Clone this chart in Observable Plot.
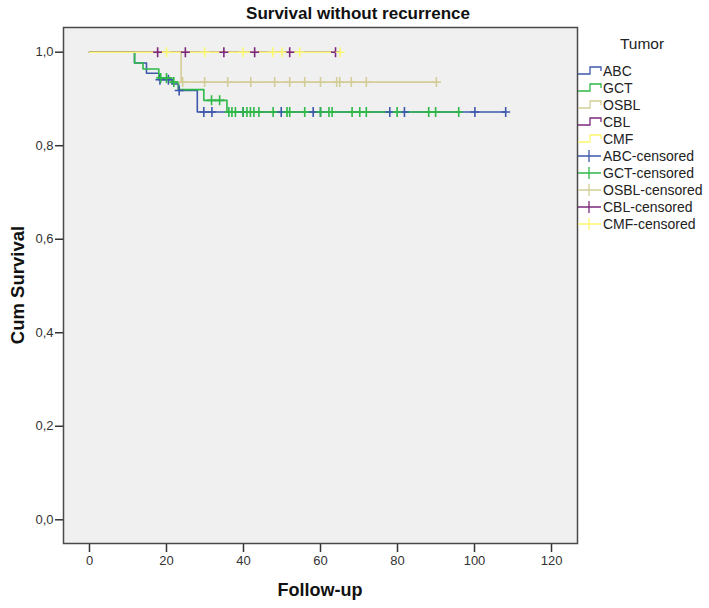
<!DOCTYPE html>
<html><head><meta charset="utf-8">
<script src="https://cdn.jsdelivr.net/npm/d3@7"></script>
<script src="https://cdn.jsdelivr.net/npm/@observablehq/plot@0.6"></script>
<style>
body{margin:0;background:#fff;font-family:"Liberation Sans",Arial,sans-serif;}
#wrap{position:relative;width:709px;height:608px;}
#over{position:absolute;left:0;top:0;pointer-events:none;}
</style></head>
<body><div id="wrap"></div>
<script>
const groups = ["ABC","GCT","OSBL","CBL","CMF"];
const colors = ["#3E58AC","#2EB848","#D3CE97","#7C287D","#FBF873"];
const xTicks = [0,20,40,60,80,100,120];
const yTicks = [0,0.2,0.4,0.6,0.8,1.0];

// Kaplan-Meier steps (time, survival)
const abcTime = [0, 11.7, 14.8, 18.0, 21.4, 23.1, 28.0, 108.1];
const abcSurv = [1, 0.977, 0.955, 0.941, 0.932, 0.918, 0.872, 0.872];
const gctTime = [0, 11.7, 13.9, 18.0, 21.4, 23.1, 29.7, 35.7, 95.9];
const gctSurv = [1, 0.977, 0.964, 0.945, 0.936, 0.920, 0.897, 0.872, 0.872];
const osblTime = [0, 23.8, 90.1];
const osblSurv = [1, 0.936, 0.936];
const cblTime = [0, 63.9];
const cblSurv = [1, 1];
const cmfTime = [0, 65.1];
const cmfSurv = [1, 1];

// censored times
const abcCens = [18.3, 20.5, 23.3, 29.7, 31.8, 39.9, 49.8, 58.1, 60.0, 78.0, 81.8, 100.1, 108.1];
const gctCens = [18.5, 20.0, 21.9, 31.7, 33.8, 36.2, 37.0, 37.9, 39.9, 40.9, 41.8, 42.7, 44.0, 47.7, 51.3, 52.0, 55.9, 60.0, 62.2, 63.0, 68.2, 70.2, 71.9, 79.9, 88.1, 89.9, 95.9];
const osblCens = [24.2, 29.9, 35.9, 41.9, 48.1, 52.0, 55.9, 60.0, 64.2, 65.0, 68.0, 71.9, 90.1];
const cblCens = [17.7, 24.9, 34.9, 42.9, 52.0, 63.9];
const cmfCens = [20.0, 29.9, 39.9, 47.6, 50.0, 54.6, 65.1];

const steps = [[abcTime,abcSurv],[gctTime,gctSurv],[osblTime,osblSurv],[cblTime,cblSurv],[cmfTime,cmfSurv]];
const cens = [abcCens,gctCens,osblCens,cblCens,cmfCens];

const lineRows = [];
steps.forEach(([t,s],i)=>t.forEach((v,j)=>lineRows.push({g:groups[i],t:v,s:s[j]})));
function survAt(i, time){
  const [t,s] = steps[i]; let v = s[0];
  for (let j=0;j<t.length;j++) if (t[j] <= time) v = s[j];
  return v;
}
const censRows = [];
cens.forEach((arr,i)=>arr.forEach(v=>censRows.push({g:groups[i],t:v,s:survAt(i,v)})));

const plus = {draw(ctx, size){ const a = Math.sqrt(size/Math.PI); ctx.moveTo(-a*0.9,0); ctx.lineTo(a*0.9,0); ctx.moveTo(0,-a); ctx.lineTo(0,a); }};

const fmt = d => d.toFixed(1).replace(".", ",");
const chart = Plot.plot({
  width: 709, height: 608,
  marginLeft: 63, marginRight: 132, marginTop: 27, marginBottom: 65,
  style: {fontFamily: '"Liberation Sans", Arial, sans-serif', fontSize: "13px", color: "#333", background: "#fff"},
  x: {domain: [-6.75, 126.75]},
  y: {domain: [-0.0507, 1.0528]},
  color: {domain: groups, range: colors},
  marks: [
    Plot.frame({fill: "#f0f0f0"}),
    Plot.axisX(xTicks, {tickSize: 9, tickPadding: 3, label: null, stroke: "#333", strokeWidth: 1.5, fill: "#333"}),
    Plot.axisY(yTicks, {tickSize: 8, tickPadding: 2, label: null, tickFormat: fmt, stroke: "#333", strokeWidth: 1.5, fill: "#333"}),
    Plot.line(lineRows, {x: "t", y: "s", z: "g", stroke: "g", curve: "step-after", strokeWidth: 1.6}),
    Plot.dot(censRows, {x: "t", y: "s", stroke: "g", symbol: plus, r: 5, strokeWidth: 1.6}),
    Plot.frame({stroke: "#4a4a4a", strokeWidth: 1.5})
  ]
});
const wrap = document.getElementById("wrap");
wrap.appendChild(chart);

// overlay: title, axis labels, legend
const ov = d3.select(wrap).append("svg").attr("id","over").attr("width",709).attr("height",608)
  .attr("font-family", '"Liberation Sans", Arial, sans-serif');
ov.append("text").attr("x",358).attr("y",19).attr("text-anchor","middle").attr("font-size",17).attr("font-weight","bold").attr("fill","#111").text("Survival without recurrence");
ov.append("text").attr("transform","translate(24,285) rotate(-90)").attr("text-anchor","middle").attr("font-size",18.5).attr("font-weight","bold").attr("fill","#111").text("Cum Survival");
ov.append("text").attr("x",320).attr("y",596).attr("text-anchor","middle").attr("font-size",18).attr("font-weight","bold").attr("fill","#111").text("Follow-up");
ov.append("text").attr("x",642).attr("y",49).attr("text-anchor","middle").attr("font-size",15.5).attr("fill","#222").text("Tumor");
const legItems = groups.map((g,i)=>({label:g, color:colors[i], kind:"line"}))
  .concat(groups.map((g,i)=>({label:g+"-censored", color:colors[i], kind:"cens"})));
legItems.forEach((d,i)=>{
  const y = 71 + i*17;
  if (d.kind==="line") {
    ov.append("path").attr("d",`M578,${y+3}H590V${y-4}H601V${y}`).attr("fill","none").attr("stroke",d.color).attr("stroke-width",1.3);
  } else {
    ov.append("path").attr("d",`M578,${y}H601M589,${y-6}V${y+6}`).attr("fill","none").attr("stroke",d.color).attr("stroke-width",1.3);
  }
  ov.append("text").attr("x",603).attr("y",y+5).attr("font-size",14).attr("fill","#222").text(d.label);
});
</script></body></html>
